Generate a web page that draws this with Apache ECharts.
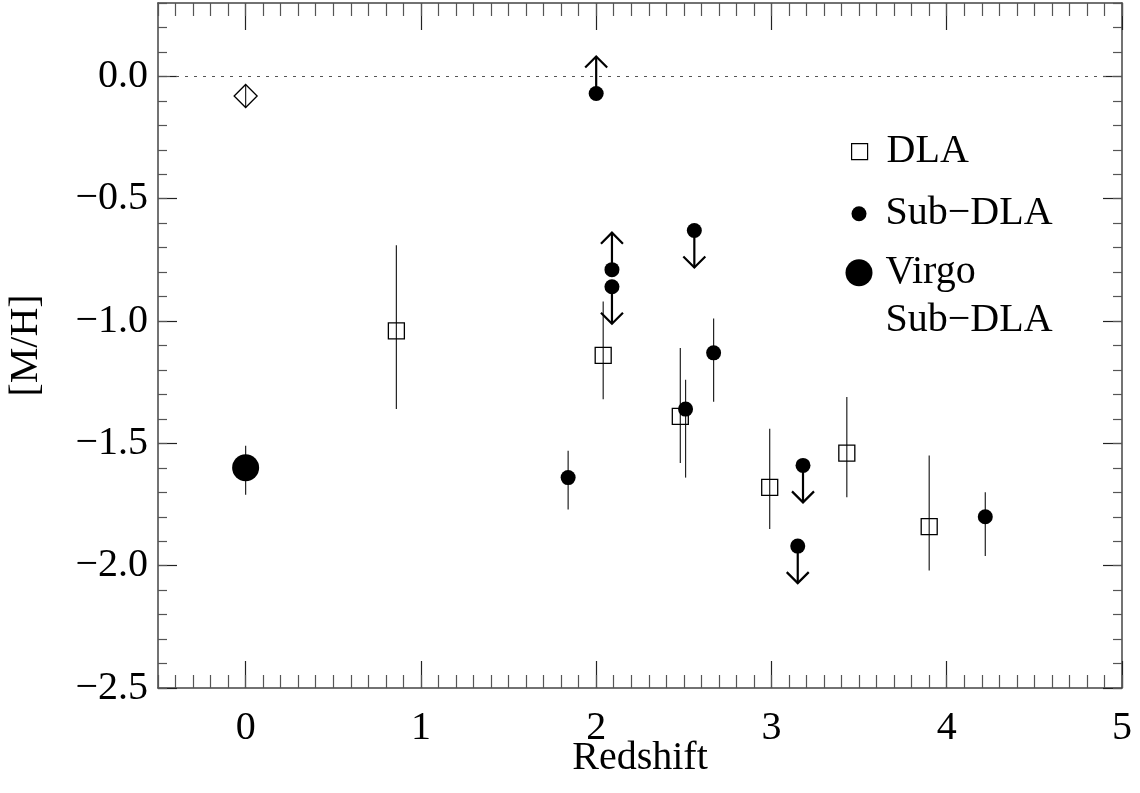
<!DOCTYPE html>
<html>
<head>
<meta charset="utf-8">
<script src="https://cdn.jsdelivr.net/npm/echarts@6/dist/echarts.min.js"></script>
<style>
  html, body { margin: 0; padding: 0; background: #fff; }
  #main { width: 1140px; height: 793px; }
</style>
</head>
<body>
<div id="main"></div>
<script>
// tick labels
const xTicks = [0, 1, 2, 3, 4, 5];
const yTicks = [-2.5, -2.0, -1.5, -1.0, -0.5, 0.0];

// DLA (open squares)
const dlaX  = [0.86, 2.04, 2.48, 2.99, 3.43, 3.90];
const dlaY  = [-1.04, -1.14, -1.39, -1.68, -1.54, -1.84];
const dlaLo = [-1.36, -1.32, -1.58, -1.85, -1.72, -2.02];
const dlaHi = [-0.69, -0.92, -1.11, -1.44, -1.31, -1.55];

// Sub-DLA (small filled circles); lim: 1 = lower limit, -1 = upper limit
const subX   = [1.84, 2.00, 2.09, 2.09, 2.51, 2.56, 2.67, 3.15, 3.18, 4.22];
const subY   = [-1.64, -0.07, -0.79, -0.86, -1.36, -0.63, -1.13, -1.92, -1.59, -1.80];
const subLo  = [-1.77, null, null, null, -1.64, null, -1.33, null, null, -1.96];
const subHi  = [-1.53, null, null, null, -1.24, null, -0.99, null, null, -1.70];
const subLim = [0, 1, 1, -1, 0, -1, 0, -1, -1, 0];

// Virgo sub-DLA (big filled circle)
const virgoX = [0.0], virgoY = [-1.60], virgoLo = [-1.71], virgoHi = [-1.51];

// z = 0 point (open diamond)
const mwX = [0.0], mwY = [-0.08], mwLo = [-0.127], mwHi = [-0.033];

const FONT = 'Liberation Serif';
const FS = 40;
const fmtMinus = v => v.toFixed(1).replace('-', '\u2212');

function errData(xs, lo, hi) {
  const out = [];
  xs.forEach((x, i) => { if (lo[i] != null) out.push([x, lo[i], hi[i]]); });
  return out;
}
function renderErr(params, api) {
  const a = api.coord([api.value(0), api.value(1)]);
  const b = api.coord([api.value(0), api.value(2)]);
  return {
    type: 'line',
    shape: { x1: a[0], y1: a[1], x2: b[0], y2: b[1] },
    style: { stroke: '#222', lineWidth: 1.2 }
  };
}
function renderArrow(params, api) {
  const p = api.coord([api.value(0), api.value(1)]);
  const d = api.value(2);
  const L = 37, h = 11;
  const tipY = p[1] - d * L;
  const st = { stroke: '#000', lineWidth: 2.2, fill: null };
  return {
    type: 'group',
    children: [
      { type: 'line', shape: { x1: p[0], y1: p[1], x2: p[0], y2: tipY }, style: st },
      { type: 'polyline', shape: { points: [[p[0] - h, tipY + d * h], [p[0], tipY], [p[0] + h, tipY + d * h]] }, style: st }
    ]
  };
}

const minorX = [], minorY = [];
for (let i = -5; i <= 50; i++) minorX.push(i / 10);
for (let i = -25; i <= 3; i++) minorY.push(i / 10);

const axBase = { type: 'value', splitLine: { show: false }, nameMoveOverlap: false };
function xAx(pos, major) {
  return Object.assign({}, axBase, {
    position: pos, min: -0.5, max: 5,
    axisLine: { show: major, onZero: false, lineStyle: { color: '#444', width: 1.5 } },
    axisTick: { inside: true, length: major ? 27 : 13, customValues: major ? xTicks : minorX,
      lineStyle: { color: major ? '#222' : '#555', width: 1.2 } },
    axisLabel: { show: major && pos === 'bottom', customValues: xTicks, margin: 20,
      fontFamily: FONT, fontSize: FS, color: '#000' },
    name: major && pos === 'bottom' ? 'Redshift' : '',
    nameLocation: 'middle', nameGap: 50,
    nameTextStyle: { fontFamily: FONT, fontSize: FS, color: '#000' }
  });
}
function yAx(pos, major) {
  return Object.assign({}, axBase, {
    position: pos, min: -2.5, max: 0.3,
    axisLine: { show: major, onZero: false, lineStyle: { color: '#444', width: 1.5 } },
    axisTick: { inside: true, length: major ? 19 : 9, customValues: major ? yTicks : minorY,
      lineStyle: { color: major ? '#222' : '#555', width: 1.2 } },
    axisLabel: { show: major && pos === 'left', customValues: yTicks, margin: 10,
      formatter: fmtMinus, fontFamily: FONT, fontSize: FS, color: '#000' },
    name: major && pos === 'left' ? '[M/H]' : '',
    nameLocation: 'middle', nameGap: 112, nameRotate: 90,
    nameTextStyle: { fontFamily: FONT, fontSize: FS, color: '#000' }
  });
}

const legendText = { fontFamily: FONT, fontSize: FS, color: '#000', lineHeight: 48, padding: [0, 0, 0, 14] };

const option = {
  animation: false,
  backgroundColor: '#fff',
  grid: { left: 158, right: 18, top: 3, bottom: 105, outerBoundsMode: 'none' },
  xAxis: [xAx('bottom', true), xAx('bottom', false), xAx('top', true), xAx('top', false)],
  yAxis: [yAx('left', true), yAx('left', false), yAx('right', true), yAx('right', false)],
  legend: [
    { data: ['DLA'], left: 851, top: 127.7, padding: 0, itemWidth: 16, itemHeight: 16,
      selectedMode: false, textStyle: legendText,
      icon: 'path://M0,0L10,0L10,10L0,10Z',
      itemStyle: { color: 'rgba(0,0,0,0)', borderColor: '#000', borderWidth: 1.2 } },
    { data: ['Sub\u2212DLA'], left: 851.5, top: 189.7, padding: 0, itemWidth: 15, itemHeight: 15,
      selectedMode: false, textStyle: legendText, icon: 'circle' },
    { data: ['Virgo Sub\u2212DLA'], left: 845.5, top: 200.7, padding: 0, itemWidth: 27, itemHeight: 27,
      selectedMode: false, icon: 'circle',
      formatter: () => '\nVirgo\nSub\u2212DLA',
      textStyle: Object.assign({}, legendText, { padding: [0, 0, 0, 8] }) }
  ],
  series: [
    { type: 'custom', name: 'errDLA', renderItem: renderErr, data: errData(dlaX, dlaLo, dlaHi),
      encode: { x: 0, y: [1, 2] }, z: 1, silent: true },
    { type: 'custom', name: 'errSub', renderItem: renderErr, data: errData(subX, subLo, subHi),
      encode: { x: 0, y: [1, 2] }, z: 1, silent: true },
    { type: 'custom', name: 'errVirgo', renderItem: renderErr, data: errData(virgoX, virgoLo, virgoHi),
      encode: { x: 0, y: [1, 2] }, z: 1, silent: true },
    { type: 'custom', name: 'errMW', renderItem: renderErr, data: errData(mwX, mwLo, mwHi),
      encode: { x: 0, y: [1, 2] }, z: 1, silent: true },
    { type: 'custom', name: 'limits', renderItem: renderArrow,
      data: subX.map((x, i) => [x, subY[i], subLim[i]]).filter(d => d[2] !== 0),
      encode: { x: 0, y: 1 }, z: 1, silent: true },
    { type: 'scatter', name: 'DLA', symbol: 'rect', symbolSize: 16,
      itemStyle: { color: 'rgba(0,0,0,0)', borderColor: '#000', borderWidth: 1.3, opacity: 1 },
      data: dlaX.map((x, i) => [x, dlaY[i]]), z: 3,
      markLine: { silent: true, symbol: 'none', label: { show: false },
        lineStyle: { color: '#555', type: [3, 6], width: 1.2 }, data: [{ yAxis: 0 }] } },
    { type: 'scatter', name: 'Sub\u2212DLA', symbol: 'circle', symbolSize: 15,
      itemStyle: { color: '#000', opacity: 1 }, data: subX.map((x, i) => [x, subY[i]]), z: 4 },
    { type: 'scatter', name: 'Virgo Sub\u2212DLA', symbol: 'circle', symbolSize: 27,
      itemStyle: { color: '#000', opacity: 1 }, data: virgoX.map((x, i) => [x, virgoY[i]]), z: 4 },
    { type: 'scatter', name: 'MW', symbol: 'diamond', symbolSize: [23, 23],
      itemStyle: { color: 'rgba(0,0,0,0)', borderColor: '#000', borderWidth: 1.3, opacity: 1 },
      data: mwX.map((x, i) => [x, mwY[i]]), z: 3 }
  ]
};

const myChart = echarts.init(document.getElementById('main'));
myChart.setOption(option);
window.onresize = function () { myChart.resize(); };
</script>
</body>
</html>
